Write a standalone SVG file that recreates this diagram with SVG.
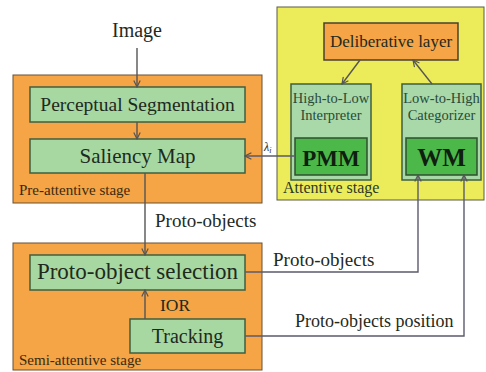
<svg xmlns="http://www.w3.org/2000/svg" width="486" height="372" viewBox="0 0 486 372">
<defs>
<style>
text{font-family:"Liberation Serif","Times New Roman",serif;fill:#1e2a1e}
.stage{fill:#f5a446;stroke:#6a5030;stroke-width:1}
.att{fill:#ecec5a;stroke:#5a5a40;stroke-width:1}
.gbox{fill:#a8d8a2;stroke:#3f5f3f;stroke-width:1.5}
.lbox{fill:#a9d9a9;stroke:#3f5f3f;stroke-width:1.5}
.dbox{fill:#4cb84a;stroke:#2f4f2f;stroke-width:1.5}
.obox{fill:#f5a446;stroke:#4a4030;stroke-width:1.5}
.lbl{font-size:15px;fill:#3a2a10}
.conn{stroke:#555555;stroke-width:1.4;fill:none}
.conn2{stroke:#5a5a6e;stroke-width:1.4;fill:none}
</style>
<marker id="ah" viewBox="0 0 10 10" refX="9" refY="5" markerWidth="8" markerHeight="8" markerUnits="userSpaceOnUse" orient="auto">
<path d="M1,1 L9,5 L1,9" fill="none" stroke="#555555" stroke-width="1.5"/>
</marker>
</defs>

<g id="pre-attentive">
<rect class="stage" x="13" y="75" width="249" height="128"/>
<text class="lbl" x="19" y="195">Pre-attentive stage</text>
</g>
<g id="semi-attentive">
<rect class="stage" x="13" y="243" width="249" height="127"/>
<text class="lbl" x="19" y="365">Semi-attentive stage</text>
</g>
<g id="attentive">
<rect class="att" x="277" y="7" width="207" height="193"/>
<text x="283" y="193" style="font-size:16px;fill:#2a3a2a">Attentive stage</text>
</g>

<g id="image">
<text x="137" y="37" text-anchor="middle" style="font-size:20px">Image</text>
</g>
<g id="perceptual">
<rect class="gbox" x="30" y="87" width="215" height="35"/>
<text x="137.5" y="111" text-anchor="middle" style="font-size:19.5px">Perceptual Segmentation</text>
</g>
<g id="saliency">
<rect class="gbox" x="30" y="139" width="215" height="34"/>
<text x="137.5" y="163" text-anchor="middle" style="font-size:21px">Saliency Map</text>
</g>
<g id="selection">
<rect class="gbox" x="30" y="255" width="215" height="35"/>
<text x="137.5" y="279" text-anchor="middle" style="font-size:23px">Proto-object selection</text>
</g>
<g id="tracking">
<rect class="gbox" x="130" y="319" width="115" height="34"/>
<text x="187.5" y="343" text-anchor="middle" style="font-size:20px">Tracking</text>
</g>
<g id="deliberative">
<rect class="obox" x="324" y="23" width="134" height="37"/>
<text x="391" y="47" text-anchor="middle" style="font-size:17px">Deliberative layer</text>
</g>
<g id="interpreter">
<rect class="lbox" x="291" y="84" width="80" height="96"/>
<text x="331" y="103" text-anchor="middle" style="font-size:14.5px;fill:#2a4a3a">High-to-Low</text>
<text x="331" y="120" text-anchor="middle" style="font-size:14.5px;fill:#2a4a3a">Interpreter</text>
</g>
<g id="pmm">
<rect class="dbox" x="295" y="138" width="72" height="37"/>
<text x="331" y="166" text-anchor="middle" style="font-size:23px;font-weight:bold;fill:#0f200f">PMM</text>
</g>
<g id="categorizer">
<rect class="lbox" x="402" y="84" width="79" height="96"/>
<text x="441.5" y="103" text-anchor="middle" style="font-size:14.5px;fill:#2a4a3a">Low-to-High</text>
<text x="441.5" y="120" text-anchor="middle" style="font-size:14.5px;fill:#2a4a3a">Categorizer</text>
</g>
<g id="wm">
<rect class="dbox" x="406" y="138" width="71" height="37"/>
<text x="441.5" y="166" text-anchor="middle" style="font-size:25px;font-weight:bold;fill:#0f200f">WM</text>
</g>

<g id="connectors">
<line class="conn" x1="137" y1="48" x2="137" y2="87" marker-end="url(#ah)"/>
<line class="conn" x1="137" y1="122" x2="137" y2="139" marker-end="url(#ah)"/>
<line class="conn" x1="145" y1="173" x2="145" y2="255" marker-end="url(#ah)"/>
<text x="155" y="227" style="font-size:19px">Proto-objects</text>
<line class="conn" x1="145" y1="319" x2="145" y2="290" marker-end="url(#ah)"/>
<text x="160" y="311" style="font-size:17.5px">IOR</text>
<line class="conn2" x1="295" y1="156" x2="245" y2="156" marker-end="url(#ah)"/>
<text x="264" y="151" style="font-size:12px;font-style:italic">λ<tspan style="font-size:8px" dy="2">i</tspan></text>
<line class="conn" x1="360" y1="60" x2="342" y2="84" marker-end="url(#ah)"/>
<line class="conn" x1="432" y1="84" x2="413" y2="60" marker-end="url(#ah)"/>
<polyline class="conn2" points="245,272 418,272 418,175" marker-end="url(#ah)"/>
<text x="273" y="266" style="font-size:19px">Proto-objects</text>
<polyline class="conn2" points="245,336 464,336 464,175" marker-end="url(#ah)"/>
<text x="295" y="327" style="font-size:18px">Proto-objects position</text>
</g>
</svg>
